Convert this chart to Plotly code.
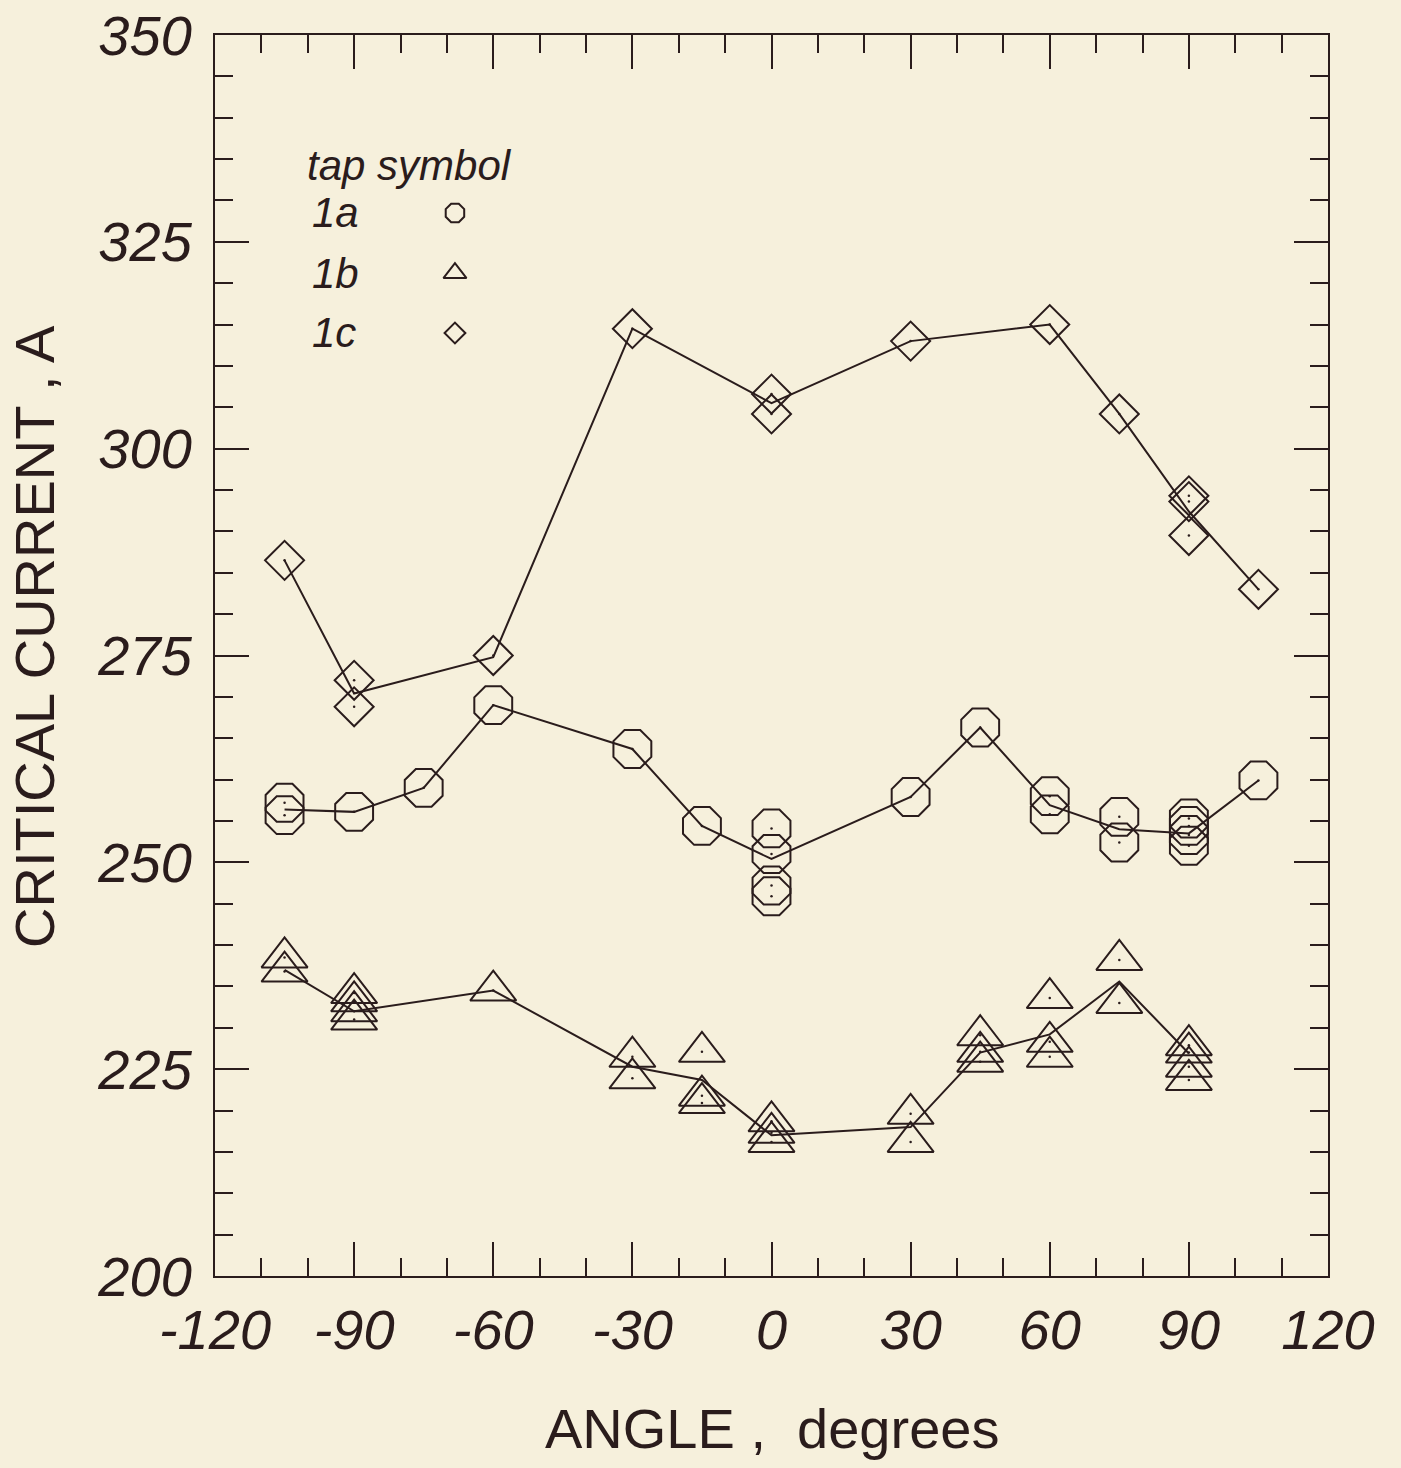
import plotly.graph_objects as go

# Critical current versus field angle for three voltage taps.
# Individual measurements (several repeats at some angles).
angle_1a = [-105, -105, -90, -75, -60, -30, -15, 0, 0, 0, 0, 30, 45, 60, 60,
            75, 75, 90, 90, 90, 90, 105]
ic_1a = [257.2, 255.7, 256.1, 259.0, 269.0, 263.7, 254.4, 254.1, 251.0, 247.2,
         245.9, 257.9, 266.3, 258.0, 255.8, 255.5, 252.4, 255.3, 254.4, 253.3,
         252.0, 259.9]

angle_1b = [-105, -105, -90, -90, -90, -90, -60, -30, -30, -15, -15, -15,
            0, 0, 0, 30, 30, 45, 45, 45, 60, 60, 60, 75, 75, 90, 90, 90, 90]
ic_1b = [238.5, 236.8, 234.2, 233.2, 232.0, 231.0, 234.5, 226.5, 223.9, 227.1,
         221.8, 220.9, 218.7, 217.3, 216.2, 219.6, 216.2, 229.1, 227.1, 225.9,
         233.6, 228.3, 226.5, 238.2, 233.0, 227.9, 227.0, 225.3, 223.7]

angle_1c = [-105, -90, -90, -60, -30, 0, 0, 30, 60, 75, 90, 90, 90, 105]
ic_1c = [286.5, 272.0, 268.8, 275.0, 314.5, 306.6, 304.2, 313.0, 315.0, 304.2,
         294.3, 293.6, 289.5, 283.0]

# Averages at each angle, joined by the connecting lines.
mean_angle_1a = [-105, -90, -75, -60, -30, -15, 0, 30, 45, 60, 75, 90, 105]
mean_ic_1a = [256.4, 256.1, 259.0, 269.0, 263.7, 254.4, 250.4, 257.9, 266.3,
              256.9, 254.0, 253.5, 259.9]

mean_angle_1b = [-105, -90, -60, -30, -15, 0, 30, 45, 60, 75, 90]
mean_ic_1b = [237.0, 232.0, 234.5, 225.3, 223.7, 217.0, 218.0, 227.0, 229.2,
              235.6, 226.9]

mean_angle_1c = [-105, -90, -60, -30, 0, 30, 60, 75, 90, 105]
mean_ic_1c = [286.5, 270.4, 274.8, 314.5, 305.5, 313.0, 315.0, 304.2, 292.4,
              283.0]

tap_names = ["1a", "1b", "1c"]
x_ticks = [-120, -90, -60, -30, 0, 30, 60, 90, 120]
y_ticks = [200, 225, 250, 275, 300, 325, 350]

INK = "#2a1c1c"
PAPER = "#f6f0dc"
FONT = "Liberation Sans, Arial, sans-serif"

fig = go.Figure()

series = [
    (mean_angle_1a, mean_ic_1a, angle_1a, ic_1a, "octagon-open", 41),
    (mean_angle_1b, mean_ic_1b, angle_1b, ic_1b, "triangle-up-open", 40),
    (mean_angle_1c, mean_ic_1c, angle_1c, ic_1c, "diamond-open", 30),
]

for name, (mx, my, px, py, sym, size) in zip(tap_names, series):
    fig.add_trace(go.Scatter(
        x=mx, y=my, mode="lines", name=name,
        line=dict(color=INK, width=2), hoverinfo="skip", showlegend=False,
    ))
    fig.add_trace(go.Scatter(
        x=px, y=py, mode="markers", name=name, showlegend=False,
        marker=dict(symbol=sym, size=size, color=INK,
                    line=dict(color=INK, width=2)),
    ))
    # small centre dot inside each plotted symbol
    fig.add_trace(go.Scatter(
        x=px, y=py, mode="markers", showlegend=False, hoverinfo="skip",
        marker=dict(symbol="circle", size=2.5, color=INK),
    ))

# Key in the upper-left corner: tap label followed by its symbol.
key_x = 0.2156
key_rows = [0.8566, 0.8082, 0.7599]
key_syms = [("octagon-open", 20), ("triangle-up-open", 20), ("diamond-open", 16)]
for yk, (sym, size) in zip(key_rows, key_syms):
    fig.add_trace(go.Scatter(
        x=[key_x], y=[yk], xaxis="x2", yaxis="y2", mode="markers",
        showlegend=False, hoverinfo="skip",
        marker=dict(symbol=sym, size=size, color=INK,
                    line=dict(color=INK, width=2)),
    ))

annotations = [
    dict(text="tap symbol", x=0.081, y=0.895, xref="paper", yref="paper",
         xanchor="left", yanchor="middle", showarrow=False,
         font=dict(family=FONT, size=42, color=INK, style="italic")),
]
for yk, name in zip(key_rows, tap_names):
    annotations.append(dict(
        text=name, x=0.085, y=yk, xref="paper", yref="paper",
        xanchor="left", yanchor="middle", showarrow=False,
        font=dict(family=FONT, size=42, color=INK, style="italic")))

annotations.append(dict(
    text="ANGLE ,  degrees", x=0.5, y=-0.1225, xref="paper", yref="paper",
    xanchor="center", yanchor="middle", showarrow=False,
    font=dict(family=FONT, size=56, color=INK)))
annotations.append(dict(
    text="CRITICAL CURRENT , A", x=-0.1617, y=0.515, xref="paper", yref="paper",
    xanchor="center", yanchor="middle", showarrow=False, textangle=-90,
    font=dict(family=FONT, size=56, color=INK)))

axis_common = dict(
    showgrid=False, zeroline=False, showline=True, linecolor=INK, linewidth=2,
    mirror="ticks", ticks="inside", ticklen=34, tickwidth=2, tickcolor=INK,
    ticklabeloverflow="allow", automargin=False,
    tickfont=dict(family=FONT, size=56, color=INK, style="italic"),
)

fig.update_layout(
    width=1401, height=1468,
    margin=dict(l=215, r=73, t=35, b=192),
    paper_bgcolor=PAPER, plot_bgcolor=PAPER,
    showlegend=False,
    xaxis=dict(range=[-120, 120], tickvals=x_ticks,
               ticktext=[str(v) for v in x_ticks],
               minor=dict(dtick=10, tick0=0, ticks="inside", ticklen=18,
                          tickwidth=2, tickcolor=INK),
               ticklabelstandoff=4,
               **axis_common),
    yaxis=dict(range=[200, 350], tickvals=y_ticks,
               minor=dict(dtick=5, tick0=0, ticks="inside", ticklen=18,
                          tickwidth=2, tickcolor=INK),
               ticklabelstandoff=10,
               **axis_common),
    xaxis2=dict(range=[0, 1], overlaying="x", anchor="y2", visible=False),
    yaxis2=dict(range=[0, 1], overlaying="y", anchor="x2", visible=False),
    annotations=annotations,
)

fig.write_html("out.html")
